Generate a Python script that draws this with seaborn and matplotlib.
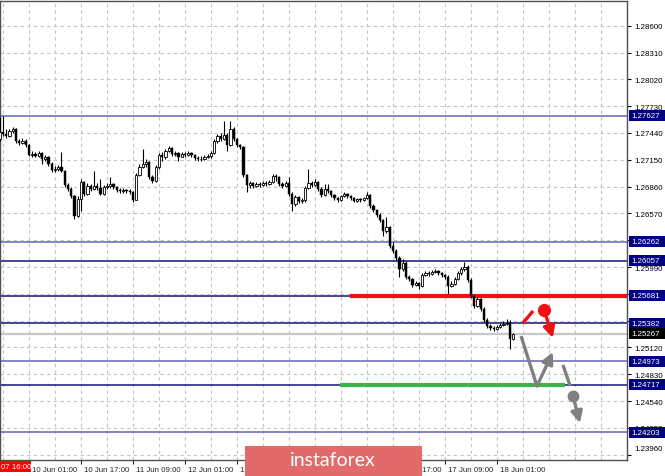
import numpy as np
import pandas as pd
import matplotlib
matplotlib.use('Agg')
import matplotlib.pyplot as plt
import matplotlib.transforms as mtransforms
from matplotlib.patches import Rectangle
import seaborn as sns

###############################################################################
# GBPUSD H1, 07 Jun 16:00 .. 18 Jun 06:00

first_open = 1.27375

close = [
    1.27451, 1.27429, 1.27407, 1.27461, 1.27483, 1.27353, 1.27332, 1.27353, 1.27310, 1.27202,
    1.27213, 1.27191, 1.27224, 1.27159, 1.27180, 1.27105, 1.27040, 1.27050, 1.27072, 1.27029,
    1.26877, 1.26834, 1.26758, 1.26542, 1.26726, 1.26910, 1.26780, 1.26867, 1.26834, 1.26867,
    1.26845, 1.26780, 1.26856, 1.26867, 1.26888, 1.26856, 1.26823, 1.26813, 1.26823, 1.26813,
    1.26802, 1.26715, 1.26986, 1.27072, 1.27105, 1.27126, 1.26964, 1.26921, 1.27072, 1.27202,
    1.27180, 1.27245, 1.27278, 1.27213, 1.27224, 1.27180, 1.27213, 1.27202, 1.27224, 1.27202,
    1.27169, 1.27159, 1.27159, 1.27180, 1.27191, 1.27224, 1.27353, 1.27407, 1.27375, 1.27418,
    1.27310, 1.27483, 1.27375, 1.27310, 1.27288, 1.26986, 1.26877, 1.26899, 1.26867, 1.26888,
    1.26877, 1.26899, 1.26888, 1.26910, 1.26975, 1.26964, 1.26888, 1.26867, 1.26899, 1.26780,
    1.26672, 1.26748, 1.26704, 1.26715, 1.26845, 1.26899, 1.26877, 1.26910, 1.26834, 1.26769,
    1.26834, 1.26813, 1.26769, 1.26737, 1.26715, 1.26758, 1.26780, 1.26758, 1.26737, 1.26704,
    1.26726, 1.26715, 1.26737, 1.26769, 1.26650, 1.26607, 1.26553, 1.26499, 1.26380, 1.26423,
    1.26218, 1.26164, 1.26088, 1.25969, 1.26034, 1.25882, 1.25861, 1.25796, 1.25818, 1.25785,
    1.25904, 1.25926, 1.25915, 1.25937, 1.25947, 1.25926, 1.25904, 1.25882, 1.25785, 1.25807,
    1.25861, 1.25926, 1.25969, 1.25991, 1.25850, 1.25677, 1.25569, 1.25645, 1.25536, 1.25417,
    1.25353, 1.25331, 1.25320, 1.25342, 1.25363, 1.25374, 1.25385, 1.25212, 1.25267,
]

high = [
    1.27613, 1.27624, 1.27483, 1.27483, 1.27505, 1.27494, 1.27375, 1.27386, 1.27375, 1.27321,
    1.27245, 1.27234, 1.27245, 1.27234, 1.27202, 1.27191, 1.27126, 1.27083, 1.27094, 1.27234,
    1.27040, 1.26899, 1.26856, 1.26769, 1.26758, 1.26942, 1.26921, 1.26899, 1.26888, 1.27029,
    1.26899, 1.26942, 1.26877, 1.26899, 1.26964, 1.26899, 1.26867, 1.26845, 1.26845, 1.26834,
    1.26834, 1.26813, 1.27007, 1.27105, 1.27267, 1.27159, 1.27137, 1.26986, 1.27094, 1.27224,
    1.27234, 1.27267, 1.27299, 1.27288, 1.27245, 1.27234, 1.27234, 1.27234, 1.27245, 1.27234,
    1.27213, 1.27191, 1.27191, 1.27202, 1.27213, 1.27245, 1.27375, 1.27429, 1.27440, 1.27570,
    1.27440, 1.27570, 1.27505, 1.27386, 1.27321, 1.27299, 1.26996, 1.26921, 1.26910, 1.26910,
    1.26910, 1.26921, 1.26921, 1.26931, 1.26996, 1.26996, 1.26975, 1.26910, 1.26921, 1.26964,
    1.26802, 1.26769, 1.26758, 1.26737, 1.26867, 1.27050, 1.26921, 1.26942, 1.26921, 1.26856,
    1.26888, 1.26888, 1.26823, 1.26780, 1.26748, 1.26769, 1.26802, 1.26791, 1.26769, 1.26748,
    1.26737, 1.26737, 1.26748, 1.26802, 1.26780, 1.26672, 1.26618, 1.26575, 1.26510, 1.26531,
    1.26434, 1.26261, 1.26185, 1.26110, 1.26077, 1.26056, 1.25904, 1.25872, 1.25839, 1.25828,
    1.25926, 1.25947, 1.25947, 1.25958, 1.25969, 1.25958, 1.25937, 1.25915, 1.25904, 1.25839,
    1.25882, 1.25947, 1.25991, 1.26045, 1.26012, 1.25872, 1.25688, 1.25666, 1.25655, 1.25558,
    1.25439, 1.25374, 1.25353, 1.25363, 1.25385, 1.25407, 1.25428, 1.25417, 1.25277,
]

low = [
    1.27353, 1.27407, 1.27386, 1.27397, 1.27440, 1.27332, 1.27310, 1.27321, 1.27288, 1.27191,
    1.27180, 1.27180, 1.27180, 1.27105, 1.27137, 1.27083, 1.27018, 1.27018, 1.27029, 1.27018,
    1.26856, 1.26813, 1.26737, 1.26510, 1.26531, 1.26596, 1.26758, 1.26769, 1.26813, 1.26823,
    1.26823, 1.26769, 1.26769, 1.26834, 1.26845, 1.26834, 1.26802, 1.26791, 1.26791, 1.26791,
    1.26780, 1.26694, 1.26715, 1.26975, 1.27061, 1.27072, 1.26942, 1.26899, 1.26910, 1.27050,
    1.27137, 1.27159, 1.27234, 1.27191, 1.27191, 1.27137, 1.27180, 1.27180, 1.27191, 1.27180,
    1.27148, 1.27137, 1.27137, 1.27148, 1.27169, 1.27169, 1.27213, 1.27332, 1.27353, 1.27364,
    1.27245, 1.27299, 1.27353, 1.27288, 1.27267, 1.26964, 1.26802, 1.26845, 1.26845, 1.26856,
    1.26856, 1.26867, 1.26867, 1.26877, 1.26899, 1.26921, 1.26867, 1.26845, 1.26856, 1.26758,
    1.26596, 1.26650, 1.26683, 1.26683, 1.26694, 1.26834, 1.26856, 1.26867, 1.26813, 1.26748,
    1.26758, 1.26791, 1.26748, 1.26715, 1.26694, 1.26704, 1.26748, 1.26737, 1.26715, 1.26694,
    1.26694, 1.26694, 1.26704, 1.26726, 1.26629, 1.26585, 1.26531, 1.26477, 1.26326, 1.26358,
    1.26196, 1.26142, 1.26066, 1.25882, 1.25947, 1.25861, 1.25839, 1.25774, 1.25785, 1.25753,
    1.25774, 1.25893, 1.25893, 1.25904, 1.25926, 1.25904, 1.25882, 1.25861, 1.25699, 1.25774,
    1.25796, 1.25850, 1.25904, 1.25947, 1.25828, 1.25655, 1.25547, 1.25558, 1.25515, 1.25396,
    1.25331, 1.25309, 1.25298, 1.25309, 1.25331, 1.25353, 1.25363, 1.25104, 1.25201,
]

level_prices = [1.27627, 1.26262, 1.26057, 1.25681, 1.25382, 1.24973, 1.24717, 1.24203]
level_light = [True, True, False, False, False, True, False, True]
current_price = 1.25267
resistance_price = 1.25681
support_price = 1.24717

y_ticks = [1.28600, 1.28310, 1.28020, 1.27730, 1.27440, 1.27150, 1.26860, 1.26570, 1.26280,
           1.25990, 1.25700, 1.25410, 1.25120, 1.24830, 1.24540, 1.24250, 1.23960]
x_tick_bars = [9, 25, 41, 57, 73, 89, 105, 121, 137, 153]
x_tick_labels = ['10 Jun 01:00', '10 Jun 17:00', '11 Jun 09:00', '12 Jun 01:00', '12 Jun 17:00',
                 '13 Jun 09:00', '14 Jun 01:00', '14 Jun 17:00', '17 Jun 09:00', '18 Jun 01:00']
first_bar_label = '07 16:00'

# forecast sketch (bar, price)
red_dash = [(161.0, 1.25385), (164.1, 1.25515)]
red_dot = (167.5, 1.25526)
red_tip = (170.2, 1.25223)
gray_down = [(160.4, 1.25244), (165.3, 1.24703)]
gray_up_tip = (170.2, 1.25071)
gray_dash = [(173.3, 1.24931), (175.5, 1.24703)]
gray_dot = (176.4, 1.24595)
gray_tip = (178.5, 1.24303)

###############################################################################

sns.set_style('white')
plt.rcParams['font.family'] = ['Liberation Sans', 'DejaVu Sans']
FS = 5.7

W, H = 665, 477
fig = plt.figure(figsize=(W / 100, H / 100), dpi=100)
ax = fig.add_axes([0, 1 - 461 / H, 627 / W, 459 / H])

df = pd.DataFrame({'close': close, 'high': high, 'low': low})
df['bar'] = np.arange(len(df))
df['open'] = df['close'].shift(1).fillna(first_open)
up = df[df['close'] >= df['open']]
down = df[df['close'] < df['open']]

GRID = '#c4c4c4'
NAVY = '#141478'
LIGHT = '#6464b4'
RED = '#ee1111'
GRAY = '#808080'

ax.vlines(df['bar'], df['low'], df['high'], color='black', lw=0.8, zorder=4)
ax.bar(down['bar'], down['open'] - down['close'], bottom=down['close'], width=0.65,
       color='black', edgecolor='black', lw=0.3, zorder=5)
ax.bar(up['bar'], np.maximum(up['close'] - up['open'], 0.00002), bottom=up['open'], width=0.65,
       color='white', edgecolor='black', lw=0.6, zorder=5)

# levels
for p, light in zip(level_prices, level_light):
    ax.axhline(p, color=LIGHT if light else NAVY, lw=1.1, zorder=2)
ax.axhline(current_price, color='#c8c8c8', lw=1.6, zorder=2)
ax.hlines(resistance_price, 107.8, 200, color=RED, lw=3, zorder=3)
ax.hlines(support_price, 104.7, 173.9, color='#3cb44b', lw=3, zorder=3)

# forecast arrows
arrow = dict(arrowstyle='-|>', lw=2.4, mutation_scale=17, shrinkA=0, shrinkB=0)
ax.plot(*zip(*red_dash), color=RED, lw=2.4, solid_capstyle='butt', zorder=6)
ax.annotate('', xy=red_tip, xytext=red_dot, arrowprops=dict(color=RED, **arrow), zorder=6)
ax.plot(*red_dot, 'o', color=RED, ms=8.5, zorder=7)
ax.plot(*zip(*gray_down), color=GRAY, lw=2.4, solid_capstyle='butt', zorder=6)
ax.annotate('', xy=gray_up_tip, xytext=gray_down[1], arrowprops=dict(color=GRAY, **arrow), zorder=6)
ax.plot(*zip(*gray_dash), color=GRAY, lw=2.4, solid_capstyle='butt', zorder=6)
ax.annotate('', xy=gray_tip, xytext=gray_dot, arrowprops=dict(color=GRAY, **arrow), zorder=6)
ax.plot(*gray_dot, 'o', color=GRAY, ms=7.5, zorder=7)

# axes
ax.set_xlim(0.08, 0.08 + 627 / 3.25)
ax.set_ylim(1.28889 - 0.00010815 * 461, 1.28889 - 0.00010815 * 2)
ax.yaxis.tick_right()
ax.set_yticks(y_ticks)
ax.set_yticklabels([f'{v:.5f}' for v in y_ticks], fontsize=FS)
ax.set_xticks(x_tick_bars)
ax.set_xticklabels(x_tick_labels, fontsize=FS, ha='left')
ax.tick_params(axis='y', length=3, width=0.8, pad=2, colors='black', right=True)
ax.tick_params(axis='x', which='major', length=3, width=0.8, pad=1.5, bottom=True)
for lbl in ax.get_xticklabels():
    lbl.set_transform(lbl.get_transform() + mtransforms.ScaledTranslation(2 / 72, 0, fig.dpi_scale_trans))
last = ax.get_yticklabels()[-1]
last.set_transform(last.get_transform() + mtransforms.ScaledTranslation(0, 5 / 72, fig.dpi_scale_trans))

ax.grid(False)
for v in y_ticks:
    ax.axhline(v, color=GRID, lw=0.8, ls=(0, (3, 3)), zorder=1)
for b in np.arange(1, 194, 8):
    ax.axvline(b, color=GRID, lw=0.8, ls=(0, (3, 3)), zorder=1)
for s in ax.spines.values():
    s.set_color('#505050')
    s.set_linewidth(1)

# level price boxes on the right scale
fig.canvas.draw()
for p in level_prices + [current_price]:
    yf = fig.transFigure.inverted().transform(ax.transData.transform((0, p)))[1]
    fc = 'black' if p == current_price else '#000080'
    fig.patches.append(Rectangle((629 / W, yf - 5.5 / H), 36 / W, 11 / H,
                                 transform=fig.transFigure, fc=fc, ec='none', zorder=10))
    fig.text(631 / W, yf, f'{p:.5f}', color='white', fontsize=FS, va='center', ha='left', zorder=11)

# first bar time stamp
fig.patches.append(Rectangle((0, 1 - 473 / H), 31 / W, 11 / H, transform=fig.transFigure,
                             fc='#ff0000', ec='none', zorder=10))
fig.text(1 / W, 1 - 467.5 / H, first_bar_label, color='white', fontsize=FS, va='center', zorder=11)

# watermark
fig.patches.append(Rectangle((245 / W, 0), 177 / W, 30 / H, transform=fig.transFigure,
                             fc='#e26a6a', ec='none', zorder=12))
fig.text(333 / W, 1 - 461 / H, 'instaforex', color='white', fontsize=14, family='Lato',
         va='center', ha='center', zorder=13)

fig.savefig('out.png', dpi=100)
